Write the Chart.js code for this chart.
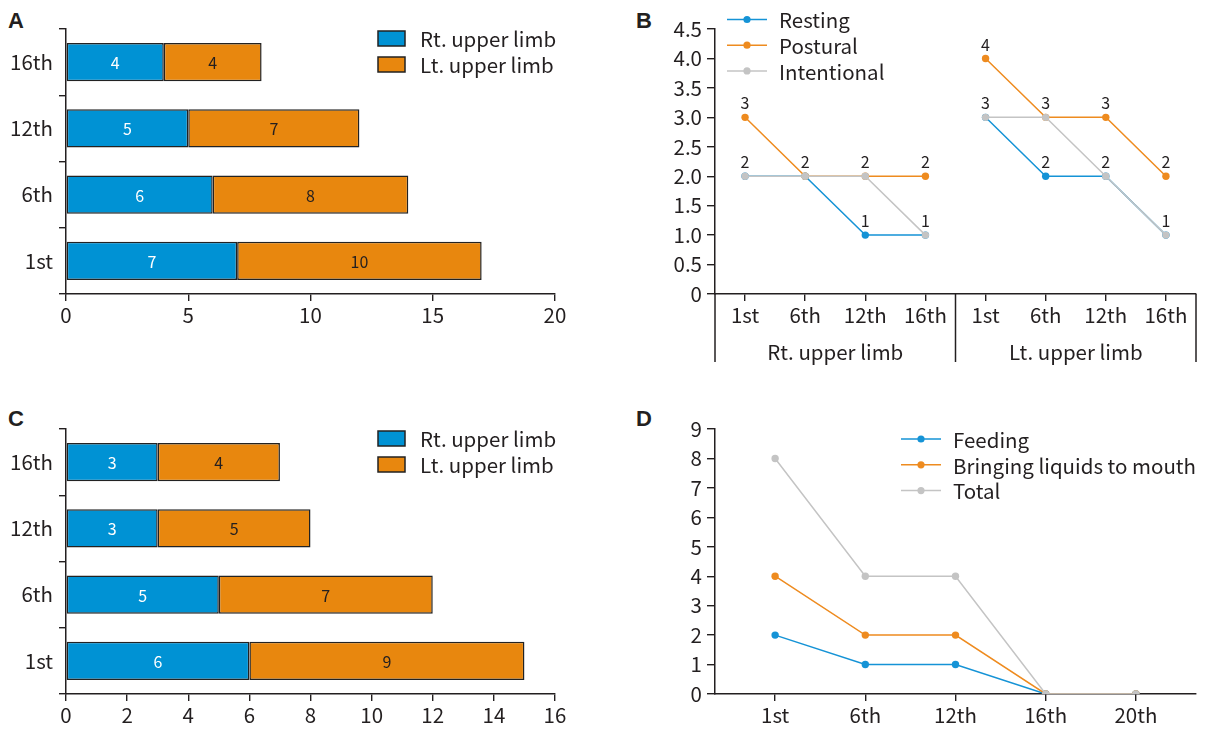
<!DOCTYPE html>
<html><head><meta charset="utf-8">
<script src="https://cdn.jsdelivr.net/npm/chart.js@4.4.1/dist/chart.umd.min.js"></script>
<style>
body{margin:0;background:#fff;width:1209px;height:729px;position:relative;overflow:hidden}
canvas{position:absolute}
.lab{position:absolute;font:bold 22px 'Liberation Sans',Arial,sans-serif;color:#231f20;line-height:22px}
</style></head><body>
<div class="lab" style="left:8px;top:10px">A</div>
<div class="lab" style="left:636px;top:10px">B</div>
<div class="lab" style="left:8px;top:408px">C</div>
<div class="lab" style="left:636px;top:408px">D</div>
<canvas id="a" width="600" height="340" style="left:0;top:0;width:600px;height:340px"></canvas>
<canvas id="b" width="589" height="370" style="left:620px;top:0;width:589px;height:370px"></canvas>
<canvas id="c" width="600" height="329" style="left:0;top:400px;width:600px;height:329px"></canvas>
<canvas id="d" width="589" height="329" style="left:620px;top:400px;width:589px;height:329px"></canvas>
<script>
// ---------- data ----------
const sessions = ['1st','6th','12th','16th'];
// Panel A
const rtA = [7, 6, 5, 4];
const ltA = [10, 8, 7, 4];
const maxA = 20, stepA = 5;
// Panel C
const rtC = [6, 5, 3, 3];
const ltC = [9, 7, 5, 4];
const maxC = 16, stepC = 2;
const barSeries = ['Rt. upper limb', 'Lt. upper limb'];
// Panel B
const sessionsB = ['1st','6th','12th','16th','1st','6th','12th','16th'];
const limbsB = ['Rt. upper limb', 'Lt. upper limb'];
const resting     = [2, 2, 1, 1, 3, 2, 2, 1];
const postural    = [3, 2, 2, 2, 4, 3, 3, 2];
const intentional = [2, 2, 2, 1, 3, 3, 2, 1];
// Panel D
const sessionsD = ['1st','6th','12th','16th','20th'];
const feeding  = [2, 1, 1, 0, 0];
const bringing = [4, 2, 2, 0, 0];
const total    = [8, 4, 4, 0, 0];

// ---------- style ----------
const FONT = "'Noto Sans CJK KR','Noto Sans',sans-serif";
const FS = 20.5;
const INK = '#231f20';
const BLUE = '#0092d4', ORANGE = '#e8870e';
const LBLUE = '#1593d6', LORANGE = '#ee8b1f', LGRAY = '#c4c4c4';

const barLabels = {
  id: 'barLabels',
  afterDatasetsDraw(chart) {
    const ctx = chart.ctx;
    ctx.save();
    ctx.font = '16px ' + FONT;
    ctx.textAlign = 'center'; ctx.textBaseline = 'middle';
    chart.data.datasets.forEach((ds, di) => {
      const meta = chart.getDatasetMeta(di);
      meta.data.forEach((el, i) => {
        const p = el.getCenterPoint();
        ctx.fillStyle = ds.labelColor;
        ctx.fillText(String(ds.data[i]), p.x, p.y + 1);
      });
    });
    ctx.restore();
  }
};

const boxLegend = {
  id: 'boxLegend',
  afterDraw(chart, args, o) {
    const ctx = chart.ctx;
    ctx.save();
    ctx.font = FS + 'px ' + FONT;
    ctx.textBaseline = 'middle'; ctx.textAlign = 'left';
    chart.data.datasets.forEach((ds, i) => {
      const y = o.y + i * o.dy;
      ctx.fillStyle = ds.backgroundColor;
      ctx.fillRect(o.x, y, 27, 15);
      ctx.strokeStyle = '#222'; ctx.lineWidth = 1.5;
      ctx.strokeRect(o.x, y, 27, 15);
      ctx.fillStyle = INK;
      ctx.fillText(ds.label, o.x + 42, y + 8);
    });
    ctx.restore();
  }
};

const lineLegend = {
  id: 'lineLegend',
  afterDraw(chart, args, o) {
    const ctx = chart.ctx;
    ctx.save();
    ctx.font = FS + 'px ' + FONT;
    ctx.textBaseline = 'middle'; ctx.textAlign = 'left';
    chart.data.datasets.forEach((ds, i) => {
      const y = o.y + i * o.dy;
      ctx.strokeStyle = ds.borderColor; ctx.lineWidth = 1.5;
      ctx.beginPath(); ctx.moveTo(o.x, y); ctx.lineTo(o.x + 40, y); ctx.stroke();
      ctx.fillStyle = ds.borderColor;
      ctx.beginPath(); ctx.arc(o.x + 20, y, 3.6, 0, Math.PI * 2); ctx.fill();
      ctx.fillStyle = INK;
      ctx.fillText(ds.label, o.x + 52, y + 1);
    });
    ctx.restore();
  }
};

const axisFont = { family: FONT, size: FS };

function barChart(id, rt, lt, max, step, h) {
  return new Chart(document.getElementById(id), {
    type: 'bar',
    data: {
      labels: sessions,
      datasets: [
        { label: barSeries[0], data: rt, backgroundColor: BLUE, borderColor: '#222', borderWidth: 1.5, borderSkipped: false, barPercentage: 0.575, categoryPercentage: 1, labelColor: '#ffffff' },
        { label: barSeries[1], data: lt, backgroundColor: ORANGE, borderColor: '#222', borderWidth: 1.5, borderSkipped: false, barPercentage: 0.575, categoryPercentage: 1, labelColor: INK }
      ]
    },
    options: {
      indexAxis: 'y', responsive: false, animation: false, devicePixelRatio: 1,
      layout: { padding: { top: 29, right: 45, left: 0, bottom: 0 } },
      plugins: { legend: { display: false }, tooltip: { enabled: false }, boxLegend: { x: 378, y: 31, dy: 26 } },
      scales: {
        x: {
          stacked: true, min: 0, max: max,
          ticks: { stepSize: step, font: axisFont, color: INK, padding: 2, maxRotation: 0 },
          grid: { drawOnChartArea: false, color: INK, tickLength: 7, lineWidth: 1.4 },
          border: { color: INK, width: 1.5 },
          afterFit: s => { s.height = h - 294; }
        },
        y: {
          stacked: true, reverse: true,
          ticks: { font: axisFont, color: INK, padding: 6 },
          grid: { drawOnChartArea: false, offset: true, color: INK, tickLength: 7, lineWidth: 1.4 },
          border: { color: INK, width: 1.5 },
          afterFit: s => { s.width = 66; }
        }
      }
    },
    plugins: [barLabels, boxLegend]
  });
}

barChart('a', rtA, ltA, maxA, stepA, 340);
barChart('c', rtC, ltC, maxC, stepC, 329);

function lineDs(label, data, color, order, gapAfter) {
  return {
    label, data, order,
    borderColor: color, backgroundColor: color,
    borderWidth: 1.5, pointRadius: 3.7, pointBorderWidth: 0, pointHoverRadius: 3.7,
    tension: 0,
    segment: gapAfter != null ? { borderColor: c => c.p0DataIndex === gapAfter ? 'rgba(0,0,0,0)' : color } : undefined
  };
}

// Panel B value labels (one per distinct value at each position) + group labels
const bExtras = {
  id: 'bExtras',
  afterDraw(chart) {
    const ctx = chart.ctx, xs = chart.scales.x, ys = chart.scales.y, ca = chart.chartArea;
    ctx.save();
    ctx.font = '16px ' + FONT; ctx.fillStyle = INK;
    ctx.textAlign = 'center'; ctx.textBaseline = 'middle';
    sessionsB.forEach((_, i) => {
      const vals = [...new Set(chart.data.datasets.map(d => d.data[i]))];
      vals.forEach(v => ctx.fillText(String(v), xs.getPixelForValue(i), ys.getPixelForValue(v) - 14));
    });
    // group separators
    const mid = (xs.getPixelForValue(3) + xs.getPixelForValue(4)) / 2;
    ctx.strokeStyle = INK; ctx.lineWidth = 1.5;
    [ca.left, mid, ca.right].forEach(x => {
      ctx.beginPath(); ctx.moveTo(x, ca.bottom); ctx.lineTo(x, 362); ctx.stroke();
    });
    ctx.font = FS + 'px ' + FONT;
    ctx.fillText(limbsB[0], (ca.left + mid) / 2, 352);
    ctx.fillText(limbsB[1], (mid + ca.right) / 2, 352);
    ctx.restore();
  }
};

new Chart(document.getElementById('b'), {
  type: 'line',
  data: {
    labels: sessionsB,
    datasets: [
      lineDs('Resting', resting, LBLUE, 2, 3),
      lineDs('Postural', postural, LORANGE, 1, 3),
      lineDs('Intentional', intentional, LGRAY, 0, 3)
    ]
  },
  options: {
    responsive: false, animation: false, devicePixelRatio: 1,
    layout: { padding: { top: 29, right: 13, left: 0, bottom: 0 } },
    plugins: { legend: { display: false }, tooltip: { enabled: false }, lineLegend: { x: 107, y: 19.5, dy: 25.7 } },
    scales: {
      x: {
        offset: true,
        ticks: { font: axisFont, color: INK, padding: 2, maxRotation: 0, autoSkip: false },
        grid: { drawOnChartArea: false, offset: false, color: INK, tickLength: 7, lineWidth: 1.4 },
        border: { color: INK, width: 1.5 },
        afterFit: s => { s.height = 370 - 294; }
      },
      y: {
        min: 0, max: 4.5,
        ticks: { stepSize: 0.5, font: axisFont, color: INK, padding: 5, callback: v => v === 0 ? '0' : v.toFixed(1) },
        grid: { drawOnChartArea: false, color: INK, tickLength: 8, lineWidth: 1.4 },
        border: { color: INK, width: 1.5 },
        afterFit: s => { s.width = 95; }
      }
    }
  },
  plugins: [bExtras, lineLegend]
});

const xyOf = arr => arr.map((v, i) => ({ x: i + 1, y: v }));
new Chart(document.getElementById('d'), {
  type: 'line',
  data: {
    datasets: [
      lineDs('Feeding', xyOf(feeding), LBLUE, 2),
      lineDs('Bringing liquids to mouth', xyOf(bringing), LORANGE, 1),
      lineDs('Total', xyOf(total), LGRAY, 0)
    ]
  },
  options: {
    responsive: false, animation: false, devicePixelRatio: 1,
    layout: { padding: { top: 29, right: 13, left: 0, bottom: 0 } },
    plugins: { legend: { display: false }, tooltip: { enabled: false }, lineLegend: { x: 281, y: 39, dy: 25.8 } },
    scales: {
      x: {
        type: 'linear', min: 1 / 3, max: sessionsD.length + 2 / 3,
        afterBuildTicks: s => { s.ticks = sessionsD.map((_, i) => ({ value: i + 1 })); },
        ticks: { font: axisFont, color: INK, padding: 2, maxRotation: 0, autoSkip: false, callback: v => sessionsD[v - 1] },
        grid: { drawOnChartArea: false, color: INK, tickLength: 7, lineWidth: 1.4 },
        border: { color: INK, width: 1.5 },
        afterFit: s => { s.height = 329 - 294; }
      },
      y: {
        min: 0, max: 9,
        ticks: { stepSize: 1, font: axisFont, color: INK, padding: 5 },
        grid: { drawOnChartArea: false, color: INK, tickLength: 8, lineWidth: 1.4 },
        border: { color: INK, width: 1.5 },
        afterFit: s => { s.width = 95; }
      }
    }
  },
  plugins: [lineLegend]
});
</script>
</body></html>
